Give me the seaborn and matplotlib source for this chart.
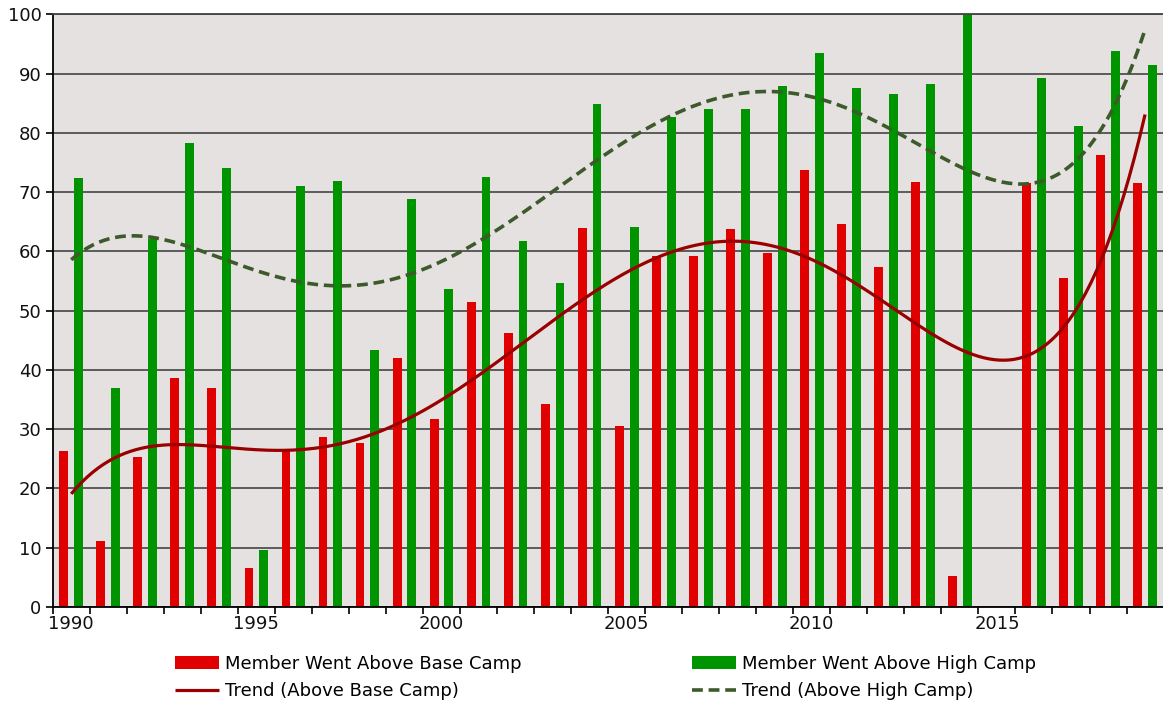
import numpy as np
import pandas as pd
import matplotlib
matplotlib.use("Agg")
import matplotlib.pyplot as plt
import seaborn as sns
from matplotlib.patches import Patch
from matplotlib.lines import Line2D

# ---------------- data ----------------
years = list(range(1990, 2020))
above_base = [26.3, 11.1, 25.3, 38.6, 36.9, 6.6, 26.4, 28.6, 27.7, 42.0,
              31.8, 51.5, 46.3, 34.3, 63.9, 30.6, 59.2, 59.3, 63.7, 59.8,
              73.8, 64.6, 57.4, 71.7, 5.2, np.nan, 71.6, 55.5, 76.3, 71.5]
above_high = [72.4, 37.0, 62.1, 78.3, 74.1, 9.6, 71.1, 71.9, 43.3, 68.9,
              53.7, 72.5, 61.8, 54.6, 84.9, 64.1, 82.7, 84.0, 84.1, 87.9,
              93.4, 87.5, 86.5, 88.3, 100.0, np.nan, 89.3, 81.2, 93.8, 91.4]
series_names = ["Member Went Above Base Camp", "Member Went Above High Camp"]
trend_names = ["Trend (Above Base Camp)", "Trend (Above High Camp)"]
x_label_years = [1990, 1995, 2000, 2005, 2010, 2015]
y_ticks = list(range(0, 101, 10))

RED = "#E00000"
GREEN = "#009400"
TREND_RED = "#990000"
TREND_GREEN = "#3D5A2B"

df = pd.DataFrame({
    "year": years * 2,
    "series": [series_names[0]] * len(years) + [series_names[1]] * len(years),
    "value": above_base + above_high,
})

fig = plt.figure(figsize=(11.63, 7.07), dpi=100)
ax = fig.add_axes([52.7 / 1163, 100 / 707, 1 - 52.7 / 1163 + 0.0005, 592.7 / 707])
ax.set_facecolor("#E6E1E1")

sns.barplot(data=df, x="year", y="value", hue="series", order=years,
            hue_order=series_names, palette=[RED, GREEN], saturation=1,
            width=0.8, gap=0.4, linewidth=0, legend=False, ax=ax, errorbar=None)

# polynomial trend lines (order 5, blanks counted as zero, like the spreadsheet)
idx = np.arange(len(years))
xx = np.linspace(0, len(years) - 1, 400)
trend_styles = [dict(color=TREND_RED, lw=2.3, solid_capstyle="butt"),
                dict(color=TREND_GREEN, lw=2.6, dashes=(3.0, 1.6))]
for vals, style in zip([above_base, above_high], trend_styles):
    v = np.nan_to_num(np.array(vals, dtype=float), nan=0.0)
    coef = np.polyfit(idx + 1, v, 5)
    ax.plot(xx, np.polyval(coef, xx + 1), zorder=5, **style)

ax.set_xlim(-0.5, len(years) - 0.5)
ax.set_ylim(0, 100)
ax.set_axisbelow(True)
ax.yaxis.grid(True, color="#505050", lw=1.3)
ax.xaxis.grid(False)

ax.set_yticks(y_ticks)
ax.set_yticklabels([str(t) for t in y_ticks])
ax.set_xticks([years.index(y) for y in x_label_years])
ax.set_xticklabels([str(y) for y in x_label_years])
ax.set_xticks(np.arange(-0.5, len(years), 1), minor=True)
ax.tick_params(axis="x", which="major", length=0, pad=6, labelsize=13, labelcolor="#111111")
ax.tick_params(axis="x", which="minor", length=5, width=1.2, color="black", direction="out")
ax.tick_params(axis="y", which="major", length=5, width=1.2, color="black", pad=3,
               labelsize=13, labelcolor="#111111")
ax.set_xlabel("")
ax.set_ylabel("")

for s in ["left", "bottom"]:
    ax.spines[s].set_color("black")
    ax.spines[s].set_linewidth(1.3)
ax.spines["top"].set_color("#444444")
ax.spines["top"].set_linewidth(1.3)
ax.spines["right"].set_visible(False)

leg_kw = dict(frameon=False, fontsize=13, handlelength=2.45, handletextpad=0.3,
              borderpad=0, borderaxespad=0, labelspacing=0.55, loc="center left")
h1 = [Patch(facecolor=RED, edgecolor="none"), Line2D([], [], **trend_styles[0])]
h2 = [Patch(facecolor=GREEN, edgecolor="none"), Line2D([], [], **trend_styles[1])]
fig.legend(h1, [series_names[0], trend_names[0]],
           bbox_to_anchor=(175 / 1163, 1 - 677.5 / 707), **leg_kw)
fig.legend(h2, [series_names[1], trend_names[1]],
           bbox_to_anchor=(692 / 1163, 1 - 677.5 / 707), **leg_kw)

fig.savefig("out.png", dpi=100)
